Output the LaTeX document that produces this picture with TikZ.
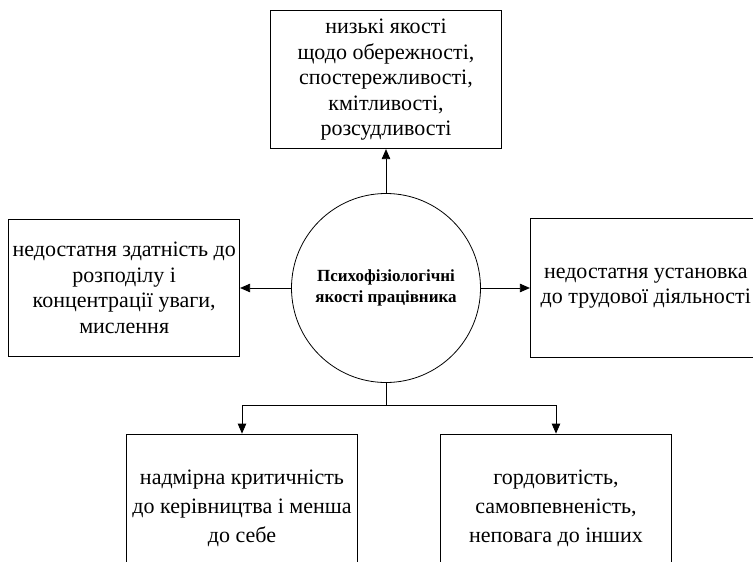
\documentclass[tikz,border=0pt]{standalone}
\usepackage{fontspec}
\setmainfont{Liberation Serif}
\usetikzlibrary{arrows.meta, positioning}
\tikzset{%
>={Triangle[width=8.5pt,length=10pt]},
  % Specifications for style of nodes:
            factor/.style = {rectangle, draw=black, line width=0.8pt,
                            minimum width=231pt, inner sep=0pt, align=center,
                            font=\fontsize{22}{25.5}\selectfont},
            core/.style = {circle, draw=black, line width=0.8pt,
                            minimum size=189pt, inner sep=0pt, align=center,
                            font=\fontsize{17}{21}\selectfont\bfseries},
            link/.style = {->, line width=0.8pt}
}
\begin{document}
\begin{tikzpicture}[x=1pt, y=-1pt]
                        \clip (0,0) rectangle (753,562);
                        \node[core] (circ) at (386,288) {Психофізіологічні\\якості працівника};
                        \node[factor, minimum height=138pt, above=44pt of circ] (lowyield)
                            {низькі якості\\ щодо обережності,\\ спостережливості,\\ кмітливості,\\ розсудливості};
                        \node[factor, minimum height=137pt, left=51pt of circ] (distrib)
                            {недостатня здатність до\\ розподілу і\\ концентрації уваги,\\ мислення};
                        \node[factor, minimum height=139pt, right=49pt of circ] (attitude)
                            {недостатня установка\\ до трудової діяльності};
                        \node[factor, minimum height=148pt, font=\fontsize{22}{29}\selectfont] (critic) at (242,508)
                            {надмірна критичність\\ до керівництва і менша\\ до себе};
                        \node[factor, minimum height=148pt, font=\fontsize{22}{29}\selectfont] (pride) at (556,508)
                            {гордовитість,\\ самовпевненість,\\ неповага до інших};
                        \coordinate (fork) at ([yshift=-22pt]circ.south);
                        \draw[link] (circ) -- (lowyield);
                        \draw[link] (circ) -- (distrib);
                        \draw[link] (circ) -- (attitude);
                        \draw[line width=0.8pt] (circ.south) -- (fork);
                        \draw[link] (fork) -| (critic);
                        \draw[link] (fork) -| (pride);
                    \end{tikzpicture}
\end{document}
